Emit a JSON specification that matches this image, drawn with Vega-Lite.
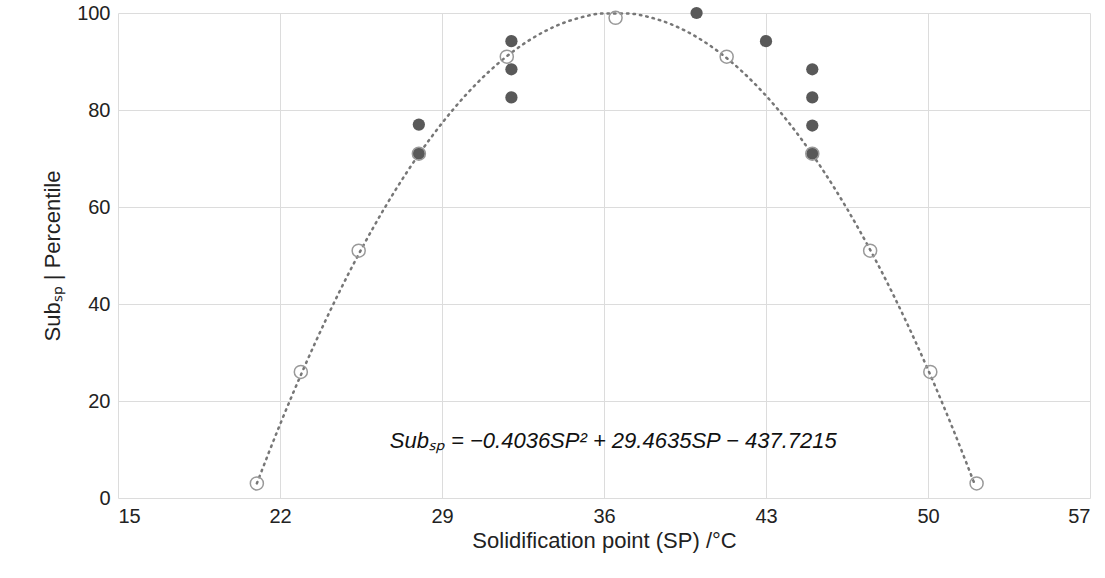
{
  "$schema": "https://vega.github.io/schema/vega-lite/v6.json",
  "width": 972,
  "height": 485,
  "autosize": "none",
  "padding": {"left": 118, "top": 13, "right": 15, "bottom": 80},
  "config": {
    "font": "Liberation Sans",
    "view": {"stroke": null},
    "axis": {"labelFontSize": 20, "titleFontSize": 22, "labelColor": "#222", "titleColor": "#222", "titleFontWeight": "normal", "gridColor": "#dcdcdc", "ticks": false, "domain": false, "labelPadding": 8}
  },
  "datasets": {
    "curve": [
      {"sp": 21, "v": 3.02}, {"sp": 22, "v": 15.14}, {"sp": 23, "v": 26.44}, {"sp": 24, "v": 36.93},
      {"sp": 25, "v": 46.62}, {"sp": 26, "v": 55.5}, {"sp": 27, "v": 63.57}, {"sp": 28, "v": 70.84},
      {"sp": 29, "v": 77.29}, {"sp": 30, "v": 82.95}, {"sp": 31, "v": 87.79}, {"sp": 32, "v": 91.82},
      {"sp": 33, "v": 95.06}, {"sp": 34, "v": 97.48}, {"sp": 35, "v": 99.09}, {"sp": 36, "v": 99.9},
      {"sp": 37, "v": 99.9}, {"sp": 38, "v": 99.09}, {"sp": 39, "v": 97.48}, {"sp": 40, "v": 95.06},
      {"sp": 41, "v": 91.83}, {"sp": 42, "v": 87.8}, {"sp": 43, "v": 82.95}, {"sp": 44, "v": 77.3},
      {"sp": 45, "v": 70.85}, {"sp": 46, "v": 63.58}, {"sp": 47, "v": 55.51}, {"sp": 48, "v": 46.64},
      {"sp": 49, "v": 36.95}, {"sp": 50, "v": 26.46}, {"sp": 51, "v": 15.16}, {"sp": 52, "v": 3.05}
    ],
    "open": [
      {"sp": 21, "v": 3}, {"sp": 22.9, "v": 26}, {"sp": 25.4, "v": 51}, {"sp": 28, "v": 71},
      {"sp": 31.8, "v": 91}, {"sp": 36.5, "v": 99}, {"sp": 41.3, "v": 91}, {"sp": 45, "v": 71},
      {"sp": 47.5, "v": 51}, {"sp": 50.1, "v": 26}, {"sp": 52.1, "v": 3}
    ],
    "filled": [
      {"sp": 28, "v": 77}, {"sp": 28, "v": 71}, {"sp": 32, "v": 94.2}, {"sp": 32, "v": 88.4},
      {"sp": 32, "v": 82.6}, {"sp": 40, "v": 100}, {"sp": 43, "v": 94.2}, {"sp": 45, "v": 88.4},
      {"sp": 45, "v": 82.6}, {"sp": 45, "v": 76.8}, {"sp": 45, "v": 71}
    ],
    "label": [{"sp": 36.4, "v": 11.8, "t": "Subₛₚ = −0.4036SP² + 29.4635SP − 437.7215"}]
  },
  "encoding": {
    "x": {"field": "sp", "type": "quantitative", "scale": {"domain": [15, 57], "nice": false}, "axis": {"values": [15, 22, 29, 36, 43, 50, 57], "title": "Solidification point (SP) /°C", "titlePadding": 4}},
    "y": {"field": "v", "type": "quantitative", "scale": {"domain": [0, 100], "nice": false}, "axis": {"values": [0, 20, 40, 60, 80, 100], "title": "Subₛₚ | Percentile", "titlePadding": 12}}
  },
  "layer": [
    {"data": {"name": "curve"}, "mark": {"type": "line", "color": "#777", "strokeDash": [1.5, 5], "strokeWidth": 2.5, "strokeCap": "round", "interpolate": "monotone"}},
    {"data": {"name": "filled"}, "mark": {"type": "circle", "size": 150, "color": "#595959", "opacity": 1}},
    {"data": {"name": "open"}, "mark": {"type": "point", "size": 170, "color": "#999", "strokeWidth": 1.5, "filled": false, "opacity": 1}},
    {"data": {"name": "label"}, "mark": {"type": "text", "fontSize": 22, "fontStyle": "italic", "color": "#111", "align": "center"}, "encoding": {"text": {"field": "t"}}}
  ]
}
